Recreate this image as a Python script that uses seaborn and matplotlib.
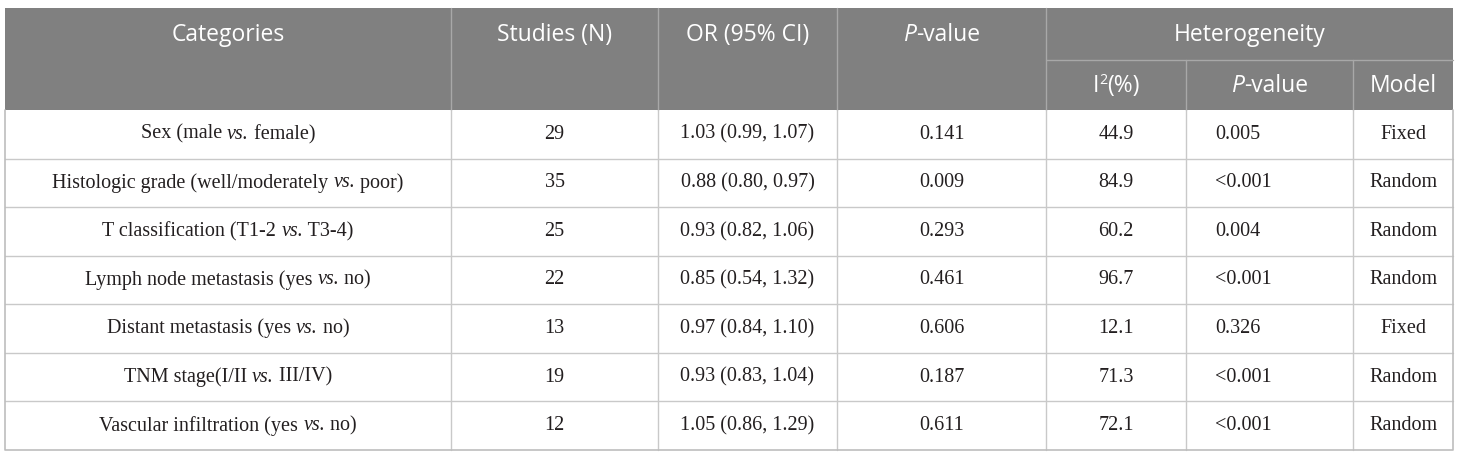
import matplotlib
matplotlib.use("Agg")
import matplotlib.pyplot as plt
import seaborn as sns
import pandas as pd

# table content
categories = [
    "Sex (male vs. female)",
    "Histologic grade (well/moderately vs. poor)",
    "T classification (T1-2 vs. T3-4)",
    "Lymph node metastasis (yes vs. no)",
    "Distant metastasis (yes vs. no)",
    "TNM stage(I/II vs. III/IV)",
    "Vascular infiltration (yes vs. no)",
]
studies = [29, 35, 25, 22, 13, 19, 12]
or_ci = ["1.03 (0.99, 1.07)", "0.88 (0.80, 0.97)", "0.93 (0.82, 1.06)",
         "0.85 (0.54, 1.32)", "0.97 (0.84, 1.10)", "0.93 (0.83, 1.04)",
         "1.05 (0.86, 1.29)"]
p_values = ["0.141", "0.009", "0.293", "0.461", "0.606", "0.187", "0.611"]
i2 = [44.9, 84.9, 60.2, 96.7, 12.1, 71.3, 72.1]
het_p = ["0.005", "<0.001", "0.004", "<0.001", "0.326", "<0.001", "<0.001"]
model = ["Fixed", "Random", "Random", "Random", "Fixed", "Random", "Random"]

df = pd.DataFrame({"cat": categories, "n": studies, "or": or_ci, "p": p_values,
                   "i2": [f"{v:.1f}" for v in i2], "hp": het_p, "model": model})

sns.set_theme(style="white")
plt.rcParams["font.family"] = ["Liberation Serif", "DejaVu Sans"]

# layout (pixels)
W, H = 1460, 457
xs = [5, 451, 658, 837, 1046, 1186, 1353, 1453]
top, sub, head_bot, bottom = 8, 60, 110, 450
row_h = (bottom - head_bot) / len(df)

HEAD_GRAY = "#808080"
HEAD_LINE = "#a8a8a8"
BODY_LINE = "#c9c9c9"
TXT = "#231f20"

fig = plt.figure(figsize=(W / 100, H / 100), dpi=100)
ax = fig.add_axes([0, 0, 1, 1])
ax.set_xlim(0, W)
ax.set_ylim(H, 0)
ax.axis("off")
renderer = fig.canvas.get_renderer()


def runs_text(x, y, runs, ha="center", fontsize=14, **kw):
    """draw pieces (text, italic[, size factor, y shift]) next to each other"""
    objs = []
    for run in runs:
        s, it = run[0], run[1]
        f = run[2] if len(run) > 2 else 1.0
        dy = run[3] if len(run) > 3 else 0
        t = ax.text(0, y + dy, s, ha="left", va="center", fontsize=fontsize * f,
                    style="italic" if it else "normal", **kw)
        objs.append(t)
    widths = [t.get_window_extent(renderer).width for t in objs]
    total = sum(widths)
    x0 = x - total / 2 if ha == "center" else x
    for t, w in zip(objs, widths):
        t.set_x(x0)
        x0 += w


def vs_runs(s):
    if "vs." in s:
        a, b = s.split("vs.", 1)
        return [(a, False), ("vs.", True), (b, False)]
    return [(s, False)]


# header background
ax.add_patch(plt.Rectangle((xs[0], top), xs[-1] - xs[0], head_bot - top,
                           facecolor=HEAD_GRAY, edgecolor="none"))
for x in xs[1:-1]:
    y0 = sub if x in xs[5:7] else top
    ax.plot([x, x], [y0, head_bot], color=HEAD_LINE, lw=1)
ax.plot([xs[4], xs[-1]], [sub, sub], color=HEAD_LINE, lw=1)

hkw = dict(color="white", fontsize=16.5, family=["Open Sans", "DejaVu Sans"])
hy = (top + sub) / 2 + 1
sy = (sub + head_bot) / 2 + 1
runs_text((xs[0] + xs[1]) / 2, hy, [("Categories", False)], **hkw)
runs_text((xs[1] + xs[2]) / 2, hy, [("Studies (N)", False)], **hkw)
runs_text((xs[2] + xs[3]) / 2, hy, [("OR (95% CI)", False)], **hkw)
runs_text((xs[3] + xs[4]) / 2, hy, [("P", True), ("-value", False)], **hkw)
runs_text((xs[4] + xs[7]) / 2, hy, [("Heterogeneity", False)], **hkw)
runs_text((xs[4] + xs[5]) / 2, sy, [("I", False), ("2", False, 0.62, -6), ("(%)", False)], **hkw)
runs_text((xs[5] + xs[6]) / 2, sy, [("P", True), ("-value", False)], **hkw)
runs_text((xs[6] + xs[7]) / 2, sy, [("Model", False)], **hkw)

# body grid
for i in range(1, len(df)):
    y = head_bot + i * row_h
    ax.plot([xs[0], xs[-1]], [y, y], color=BODY_LINE, lw=1)
for x in xs[1:-1]:
    ax.plot([x, x], [head_bot, bottom], color=BODY_LINE, lw=1)
ax.plot([xs[0], xs[0], xs[-1], xs[-1]], [head_bot, bottom, bottom, head_bot],
        color="#bdbdbd", lw=1.2)

bkw = dict(color=TXT, fontsize=14.5)
for i, r in df.iterrows():
    y = head_bot + (i + 0.5) * row_h
    runs_text((xs[0] + xs[1]) / 2, y, vs_runs(r["cat"]), **bkw)
    runs_text((xs[1] + xs[2]) / 2, y, [(str(r["n"]), False)], **bkw)
    runs_text((xs[2] + xs[3]) / 2, y, [(r["or"], False)], **bkw)
    runs_text((xs[3] + xs[4]) / 2, y, [(r["p"], False)], **bkw)
    runs_text((xs[4] + xs[5]) / 2, y, [(r["i2"], False)], **bkw)
    runs_text(xs[5] + 29, y, [(r["hp"], False)], ha="left", **bkw)
    runs_text((xs[6] + xs[7]) / 2, y, [(r["model"], False)], **bkw)

fig.savefig("out.png", dpi=100, facecolor="white")
